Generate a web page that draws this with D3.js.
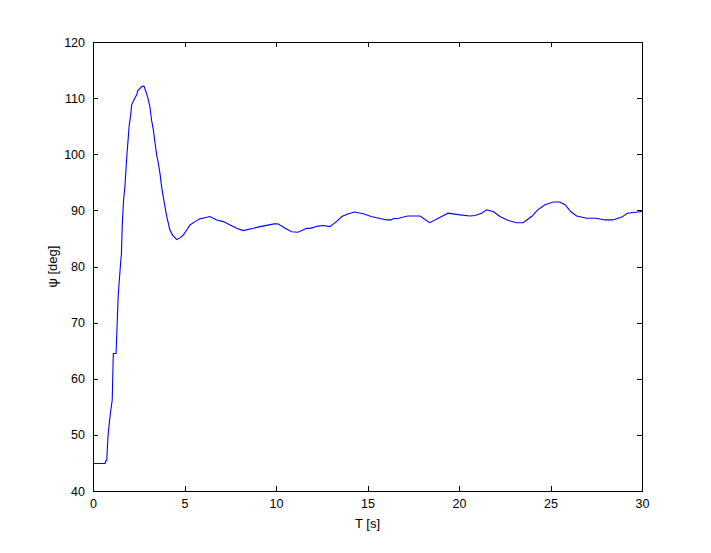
<!DOCTYPE html>
<html><head><meta charset="utf-8">
<script src="https://cdn.jsdelivr.net/npm/d3@7"></script>
<style>body{margin:0;background:#fff;} text{font-family:"Liberation Sans",Arial,sans-serif;}</style>
</head><body>
<svg id="chart" width="711" height="553"></svg>
<script>
const timeS = [0,0.66,0.7,0.75,0.82,0.89,0.97,1.05,1.11,1.26,1.33,1.38,1.53,1.55,1.6,1.67,1.75,1.8,1.86,1.93,1.98,2.06,2.11,2.3,2.39,2.44,2.68,2.79,2.9,3.0,3.11,3.2,3.3,3.39,3.48,3.57,3.66,3.75,3.84,3.93,4.03,4.12,4.2,4.35,4.57,4.75,4.93,5.12,5.3,5.57,5.85,6.12,6.39,6.76,7.12,7.49,7.85,8.21,8.76,9.13,9.9,10.1,10.5,10.86,11.2,11.68,11.86,12.3,12.58,12.95,13.3,13.6,13.95,14.3,14.77,15.2,16.05,16.3,16.45,16.6,17.2,17.87,18.4,19.05,19.4,20.05,20.6,20.87,21.24,21.5,21.87,22.24,22.7,23.15,23.5,23.97,24.3,24.7,25.15,25.5,25.8,26.1,26.43,26.98,27.5,27.98,28.4,28.9,29.2,30];
const psiDeg = [44.9,44.9,45.4,45.4,49.8,52.1,54.3,56.2,64.5,64.5,70.6,75,81.5,82,87.4,91.8,94.5,97.2,100.2,103.1,105.2,107,108.8,110.1,110.6,111.3,112.1,112.1,111.1,110,108.5,106.1,104.3,102,99.9,98.4,96.6,94.2,92.4,90.7,88.9,87.7,86.5,85.6,84.8,85.1,85.6,86.5,87.4,88,88.5,88.7,88.9,88.3,88,87.4,86.8,86.4,86.8,87.1,87.6,87.6,86.8,86.2,86.1,86.8,86.8,87.2,87.3,87.1,88,88.9,89.4,89.7,89.4,88.9,88.3,88.3,88.6,88.5,89.0,89.0,87.8,88.9,89.5,89.2,89.0,89.1,89.5,90.1,89.8,88.9,88.2,87.8,87.8,88.9,90.1,91.0,91.5,91.5,91.0,89.8,89.0,88.6,88.6,88.3,88.3,88.8,89.5,89.8,89.8];
const xTicks = [0,5,10,15,20,25,30];
const yTicks = [40,50,60,70,80,90,100,110,120];

const svg = d3.select("#chart");
const L = 93, R = 642, T = 42, B = 491;
const x = d3.scaleLinear().domain([0,30]).range([L,R]);
const y = d3.scaleLinear().domain([40,120]).range([B,T]);

const data = timeS.map((t,i)=>({t, v: psiDeg[i]}));
svg.append("path").datum(data)
  .attr("fill","none").attr("stroke","#0000ff").attr("stroke-width",1.1)
  .attr("d", d3.line().x(d=>x(d.t)).y(d=>y(d.v)));

const tl = 5;
const gB = svg.append("g").attr("transform",`translate(0,${B})`)
  .call(d3.axisBottom(x).tickValues(xTicks).tickSizeInner(-tl).tickSizeOuter(0).tickPadding(8));
const gT = svg.append("g").attr("transform",`translate(0,${T})`)
  .call(d3.axisTop(x).tickValues(xTicks).tickSizeInner(-tl).tickSizeOuter(0).tickFormat(""));
const gL = svg.append("g").attr("transform",`translate(${L},0)`)
  .call(d3.axisLeft(y).tickValues(yTicks).tickSizeInner(-tl).tickSizeOuter(0).tickPadding(8));
const gR = svg.append("g").attr("transform",`translate(${R},0)`)
  .call(d3.axisRight(y).tickValues(yTicks).tickSizeInner(-tl).tickSizeOuter(0).tickFormat(""));
[gB,gT,gL,gR].forEach(g=>{
  g.selectAll("path.domain").attr("stroke","#000").attr("stroke-width",1).attr("shape-rendering","crispEdges");
  g.selectAll("line").attr("stroke","#000").attr("shape-rendering","crispEdges");
  g.selectAll("text").attr("font-size",12.5).attr("fill","#000").attr("font-family","Liberation Sans, Arial, sans-serif");
});

svg.append("text").attr("x",(L+R)/2).attr("y",528).attr("text-anchor","middle")
  .attr("font-size",13).text("T [s]");
svg.append("text").attr("transform",`translate(57,${(T+B)/2}) rotate(-90)`).attr("text-anchor","middle")
  .attr("font-size",13).text("ψ [deg]");
</script>
</body></html>
